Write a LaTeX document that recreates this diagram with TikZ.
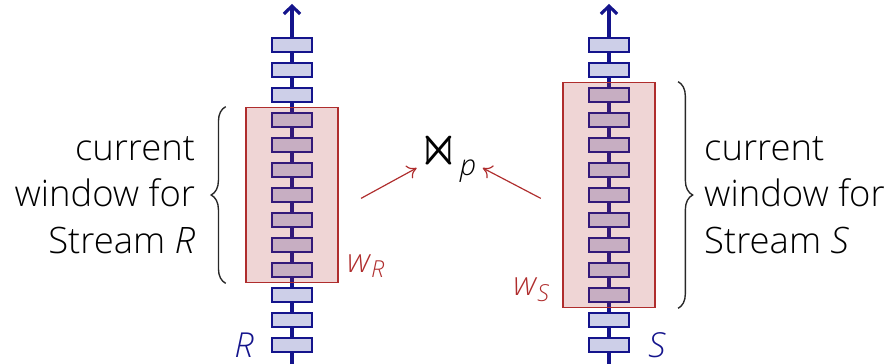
\documentclass[tikz,border=0pt]{standalone}
\usepackage{amssymb}
\usepackage{graphicx}
\usepackage{fontspec}
\setmainfont{Open Sans}[UprightFont={* Light}, ItalicFont={* Light Italic}]
\usetikzlibrary{positioning, fit, calc, decorations.pathreplacing, arrows.meta}

\definecolor{streamblue}{RGB}{20,20,140}
\definecolor{tuplefill}{RGB}{205,207,232}
\definecolor{winred}{RGB}{175,45,45}
\definecolor{bracegray}{RGB}{40,40,40}

\tikzset{
  stream/.style={streamblue, line width=1.6pt, -{Straight Barb[length=1.4mm, width=2.9mm]}},
  tuple/.style={draw=streamblue, fill=tuplefill, line width=1pt, minimum width=0.72cm, minimum height=0.25cm, inner sep=0pt},
  window/.style={draw=winred, line width=0.9pt, fill=winred, fill opacity=0.2, inner xsep=0.45cm, inner ysep=0.08cm},
  wbrace/.style={draw=bracegray, line width=0.7pt, decorate, decoration={brace, amplitude=0.26cm}},
  wintext/.style={font=\fontsize{18.5}{23.6}\selectfont, inner sep=0pt},
  wlabel/.style={winred, font=\fontsize{17}{20}\selectfont, inner sep=0pt},
  streamlabel/.style={streamblue, font=\fontsize{17.5}{20}\selectfont, inner sep=0pt},
  joinarrow/.style={winred, line width=0.6pt, -{To[length=1.6mm, width=2.6mm]}}
}

\begin{document}
\begin{tikzpicture}[x=1cm,y=1cm]
  \useasboundingbox (0,0) rectangle (16,6.5);

  % Streams
  \coordinate (R0) at (5.214,0);
  \coordinate (RT) at (5.214,6.43);
  \coordinate (S0) at (10.875,0);
  \coordinate (ST) at (10.875,6.43);
  \draw[stream] (R0) -- (RT);
  \draw[stream] (S0) -- (ST);

  % Tuples
  \foreach \k in {0,...,12} {
    \node[tuple] (r\k) at (5.214, 5.696-0.4464*\k) {};
    \node[tuple] (s\k) at (10.875, 5.696-0.4464*\k) {};
  }

  % Windows
  \node[window, fit=(r3)(r9)] (winR) {};
  \node[window, fit=(s2)(s10)] (winS) {};

  % Window and stream labels
  \node[wlabel, above right=0.1cm and 0.14cm of winR.south east] (wR) {\textit{w}\textsubscript{\textit{R}}};
  \node[wlabel, above left=0.12cm and 0.2cm of winS.south west] (wS) {\textit{w}\textsubscript{\textit{S}}};
  \node[streamlabel, left=0.3cm of r12] (lR) {\textit{R}};
  \node[streamlabel, right=0.32cm of s12] (lS) {\textit{S}};

  % Braces
  \draw[wbrace] ([xshift=-0.34cm]winR.south west) -- ([xshift=-0.34cm]winR.north west);
  \draw[wbrace] ([xshift=0.39cm]winS.north east) -- ([xshift=0.39cm]winS.south east);
  \coordinate (tipR) at ($(winR.west)+(-0.6,0)$);
  \coordinate (tipS) at ($(winS.east)+(0.65,0)$);
  \node[wintext, align=right, left=0.28cm of tipR] (txtR) {current\\window for\\Stream \textit{R}};
  \node[wintext, align=left, right=0.2cm of tipS] (txtS) {current\\window for\\Stream \textit{S}};

  % Join
  \node[font=\fontsize{21}{24}\selectfont, inner sep=0pt] (join) at (8.0,3.7) {\raisebox{0.08cm}{\resizebox{0.73cm}{0.62cm}{$\Join$}}\textsubscript{\textit{p}}};
  \coordinate (aR) at ($(winR.east)+(0.39,-0.06)$);
  \coordinate (aS) at ($(winS.west)+(-0.375,-0.06)$);
  \coordinate (jR) at ($(join.center)+(-0.56,-0.2)$);
  \coordinate (jS) at ($(join.center)+(0.62,-0.2)$);
  \draw[joinarrow] (aR) -- (jR);
  \draw[joinarrow] (aS) -- (jS);
\end{tikzpicture}
\end{document}
